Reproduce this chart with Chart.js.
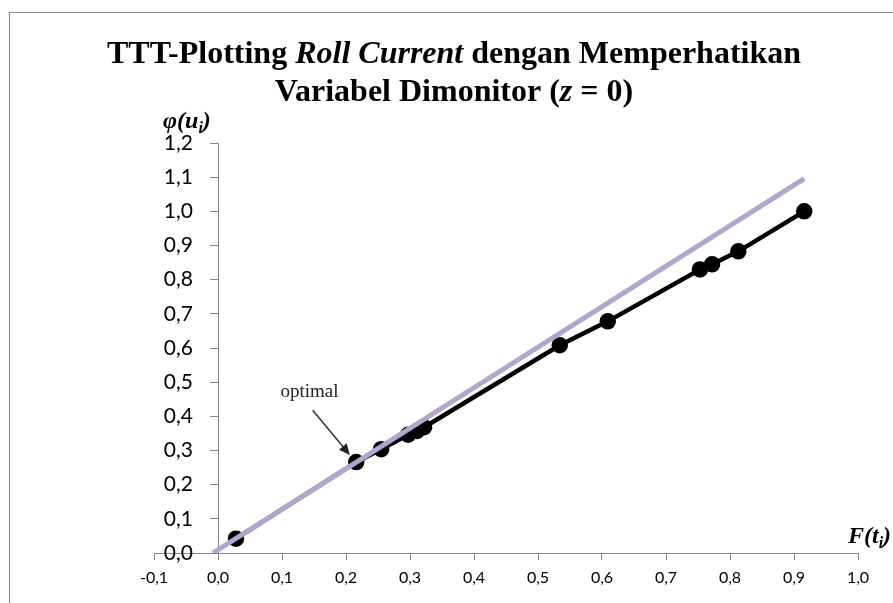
<!DOCTYPE html>
<html>
<head>
<meta charset="utf-8">
<script src="https://cdn.jsdelivr.net/npm/chart.js@4/dist/chart.umd.min.js"></script>
<style>
    html, body { margin: 0; padding: 0; background: #fff; }
    #grafico { display: block; }
</style>
</head>
<body>
<canvas id="grafico" width="893" height="603"></canvas>
<script>
// ===== DADOS =====
const tempoX   = [0.028, 0.216, 0.255, 0.297, 0.311, 0.322, 0.534, 0.609, 0.753, 0.772, 0.813, 0.916];
const phiY     = [0.042, 0.266, 0.304, 0.346, 0.357, 0.368, 0.608, 0.678, 0.830, 0.845, 0.883, 1.000];
const otimoX   = [-0.008, 0.916];
const otimoY   = [0.000, 1.096];
const ticksX   = { min: -0.1, max: 1.0, step: 0.1 };
const ticksY   = { min: 0.0, max: 1.2, step: 0.1 };

// ===== HELPERS =====
const SERIF = '"Liberation Serif", "Times New Roman", serif';
const SANS  = 'Lato, "Noto Sans", sans-serif';
const EIXO  = '#868686';

function formatarVirgula(v) {
    return (Math.round(v * 10) / 10).toFixed(1).replace('.', ',');
}

function pontos(xs, ys) {
    return xs.map((x, i) => ({ x, y: ys[i] }));
}

// desenha um texto com trechos de fontes diferentes
function desenharTrechos(ctx, trechos, x, y, align) {
    let largura = 0;
    trechos.forEach(t => { ctx.font = t.f; largura += ctx.measureText(t.t).width; });
    let cx = align === 'center' ? x - largura / 2 : x;
    ctx.textAlign = 'left';
    ctx.textBaseline = 'alphabetic';
    trechos.forEach(t => {
        ctx.font = t.f;
        ctx.fillText(t.t, cx, y + (t.dy || 0));
        cx += ctx.measureText(t.t).width;
    });
}

// ===== PLUGIN — moldura, título, rótulos e anotação =====
const textosExtras = {
    id: 'textosExtras',
    beforeDraw(chart) {
        const ctx = chart.ctx;
        ctx.save();
        ctx.fillStyle = '#fff';
        ctx.fillRect(0, 0, chart.width, chart.height);
        ctx.strokeStyle = EIXO;
        ctx.lineWidth = 1;
        ctx.strokeRect(9.5, 12.5, 1200, 1200);
        ctx.restore();
    },
    afterDraw(chart) {
        const ctx = chart.ctx;
        const sx = chart.scales.x, sy = chart.scales.y;
        ctx.save();
        ctx.fillStyle = '#000';

        // rótulos do eixo y (o eixo fica em x = 0, então o Chart.js os cola na linha)
        const eixoX = sx.getPixelForValue(0);
        ctx.font = '21px ' + SANS;
        ctx.textAlign = 'right';
        ctx.textBaseline = 'middle';
        sy.ticks.forEach(t => ctx.fillText(formatarVirgula(t.value), eixoX - 25, sy.getPixelForValue(t.value)));

        const b  = 'bold 32px ' + SERIF;
        const bi = 'italic bold 32px ' + SERIF;
        desenharTrechos(ctx, [
            { t: 'TTT-Plotting ', f: b },
            { t: 'Roll Current', f: bi },
            { t: ' dengan Memperhatikan', f: b }
        ], 454, 63, 'center');
        desenharTrechos(ctx, [
            { t: 'Variabel Dimonitor (', f: b },
            { t: 'z', f: bi },
            { t: ' = 0)', f: b }
        ], 454, 101, 'center');

        const g  = 'italic bold 24px ' + SERIF;
        const gs = 'italic bold 16px ' + SERIF;
        desenharTrechos(ctx, [
            { t: 'φ(u', f: g }, { t: 'i', f: gs, dy: 5 }, { t: ')', f: g }
        ], 163, 128, 'left');
        desenharTrechos(ctx, [
            { t: 'F(t', f: g }, { t: 'i', f: gs, dy: 5 }, { t: ')', f: g }
        ], 848, 543, 'left');

        // anotação "optimal"
        ctx.font = '19px ' + SERIF;
        ctx.fillStyle = '#222';
        ctx.textAlign = 'center';
        ctx.textBaseline = 'alphabetic';
        ctx.fillText('optimal', sx.getPixelForValue(0.143), sy.getPixelForValue(0.458));

        const x1 = sx.getPixelForValue(0.148), y1 = sy.getPixelForValue(0.418);
        const x2 = sx.getPixelForValue(0.206), y2 = sy.getPixelForValue(0.287);
        const ang = Math.atan2(y2 - y1, x2 - x1);
        ctx.strokeStyle = '#333';
        ctx.lineWidth = 1.5;
        ctx.beginPath();
        ctx.moveTo(x1, y1);
        ctx.lineTo(x2 - 8 * Math.cos(ang), y2 - 8 * Math.sin(ang));
        ctx.stroke();
        ctx.fillStyle = '#222';
        ctx.beginPath();
        ctx.moveTo(x2, y2);
        ctx.lineTo(x2 - 11 * Math.cos(ang) + 5 * Math.sin(ang), y2 - 11 * Math.sin(ang) - 5 * Math.cos(ang));
        ctx.lineTo(x2 - 11 * Math.cos(ang) - 5 * Math.sin(ang), y2 - 11 * Math.sin(ang) + 5 * Math.cos(ang));
        ctx.closePath();
        ctx.fill();
        ctx.restore();
    }
};

// ===== GRÁFICO =====
const ctx = document.getElementById('grafico').getContext('2d');
new Chart(ctx, {
    type: 'scatter',
    data: {
        datasets: [
            {
                label:       'optimal',
                data:        pontos(otimoX, otimoY),
                showLine:    true,
                borderColor: '#B4A5CD',
                borderWidth: 5,
                pointRadius: 0,
                order:       0,
            },
            {
                label:                'TTT',
                data:                 pontos(tempoX, phiY),
                showLine:             true,
                borderColor:          '#000',
                borderWidth:          4.5,
                pointRadius:          6,
                pointBackgroundColor: '#000',
                pointBorderColor:     '#000',
                order:                1,
            }
        ]
    },
    options: {
        responsive: false,
        animation: false,
        devicePixelRatio: 1,
        layout: { padding: { left: 154, right: 35, top: 143, bottom: 0 } },
        plugins: {
            legend:  { display: false },
            tooltip: { enabled: false },
            title:   { display: false }
        },
        scales: {
            x: {
                type: 'linear',
                min: ticksX.min,
                max: ticksX.max,
                afterFit: s => { s.height = 50; },
                ticks: {
                    stepSize: ticksX.step,
                    callback: v => formatarVirgula(v),
                    color: '#000',
                    padding: 8,
                    font: { family: SANS, size: 16 }
                },
                grid:   { drawOnChartArea: false, tickLength: 7, color: EIXO },
                border: { color: EIXO, width: 1 }
            },
            y: {
                type: 'linear',
                position: { x: 0 },
                min: ticksY.min,
                max: ticksY.max,
                ticks: {
                    display: false,
                    stepSize: ticksY.step
                },
                grid:   { drawOnChartArea: false, tickLength: 8, color: EIXO },
                border: { color: EIXO, width: 1 }
            }
        }
    },
    plugins: [textosExtras]
});
</script>
</body>
</html>
